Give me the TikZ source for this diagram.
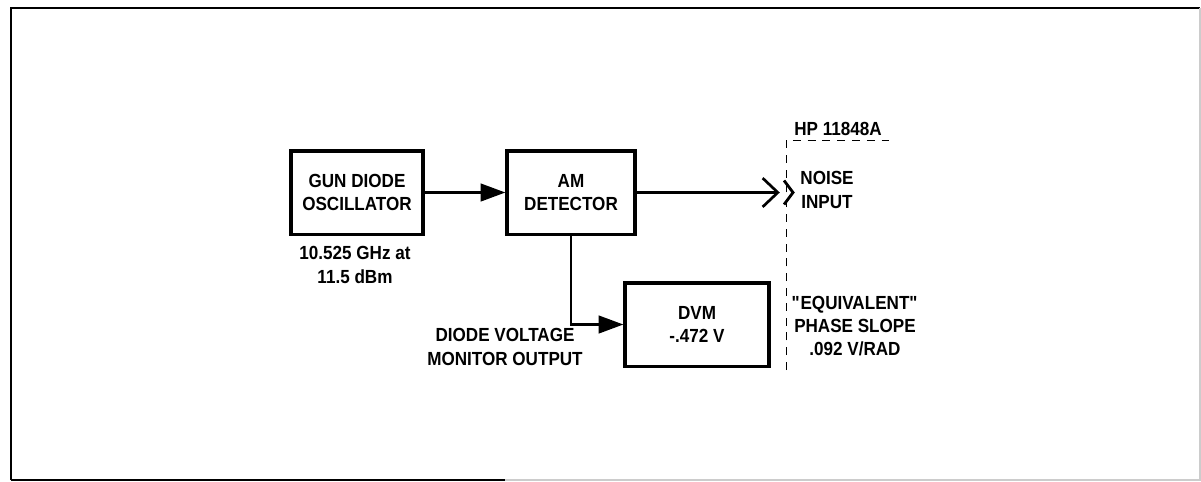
\documentclass[tikz,border=0pt]{standalone}
\usepackage{fontspec}
\setmainfont[FakeStretch=0.9]{Liberation Sans}
\usetikzlibrary{positioning, arrows.meta}
\def\colGun{357}
\def\colAM{571}
\def\colDVM{697}
\def\colHP{786}
\def\rowMain{192.5}
\def\rowDVM{324.5}
\def\boxW{3.3cm}
\def\boxH{2.08cm}

\begin{document}
\begin{tikzpicture}[
    x=0.025cm, y=-0.025cm,
    font=\fontsize{13.5}{16.5}\selectfont\bfseries,
    block/.style  ={rectangle, draw, line width=2.3pt, minimum width=\boxW, minimum height=\boxH,
                    align=center, anchor=center},
    note/.style   ={align=center, anchor=center, inner sep=1pt},
    arrow/.style  ={-{Triangle[length=0.62cm, width=0.44cm]}, line width=1.9pt},
    openarrow/.style={-{Straight Barb[length=0.38cm, width=0.72cm]}, line width=1.9pt, shorten >=3pt},
    bracket/.style={line width=0.7pt, dash pattern=on 0.2cm off 0.17cm},
]
\useasboundingbox (0,0) rectangle (1201,481);

% outer frame
\draw[line width=2pt] (11,480) -- (11,8) -- (1200,8);
\draw[line width=1.8pt] (11,480) -- (505,480);
\draw[line width=1pt, gray!40] (505,480) -- (1200,480) -- (1200,8);

% =====================================================
% blocks
% =====================================================
\node[block]                      (gun)   at (\colGun,\rowMain) {GUN DIODE\\OSCILLATOR};
\node[block, minimum width=3.2cm] (amdet) at (\colAM,\rowMain)  {AM\\DETECTOR};
\node[block, minimum width=3.6cm] (dvm)   at (\colDVM,\rowDVM)  {DVM\\-.472 V};

% labels
\node[note] (gunlbl)  at (355,265) {10.525 GHz at\\11.5 dBm};
\node[note] (monlbl)  at (505,347) {DIODE VOLTAGE\\MONITOR OUTPUT};
\node[note] (noiselbl) at (827,190) {NOISE\\INPUT};
\node[note] (slopelbl) at (855,326) {\textquotedbl EQUIVALENT\textquotedbl\\PHASE SLOPE\\.092 V/RAD};
\node[note] (hplbl)   at (838,129) {HP 11848A};

% =====================================================
% HP 11848A input
% =====================================================
\coordinate (hpTop) at (\colHP,140);
\coordinate (hpEnd) at (889,140);
\coordinate (hpBot) at (\colHP,370);
\draw[bracket] (hpBot) -- (hpTop) -- (hpEnd);

\coordinate (noiseIn) at (784,\rowMain);
\draw[line width=2pt, line join=miter] (noiseIn) ++(0,-12) -- ++(9,12) -- ++(-9,12);

% =====================================================
% connectors
% =====================================================
\draw[arrow] (gun) -- (amdet);
\draw[openarrow] (amdet) -- (noiseIn);
\draw[arrow] (amdet.south) |- (dvm.west);

\end{tikzpicture}
\end{document}
